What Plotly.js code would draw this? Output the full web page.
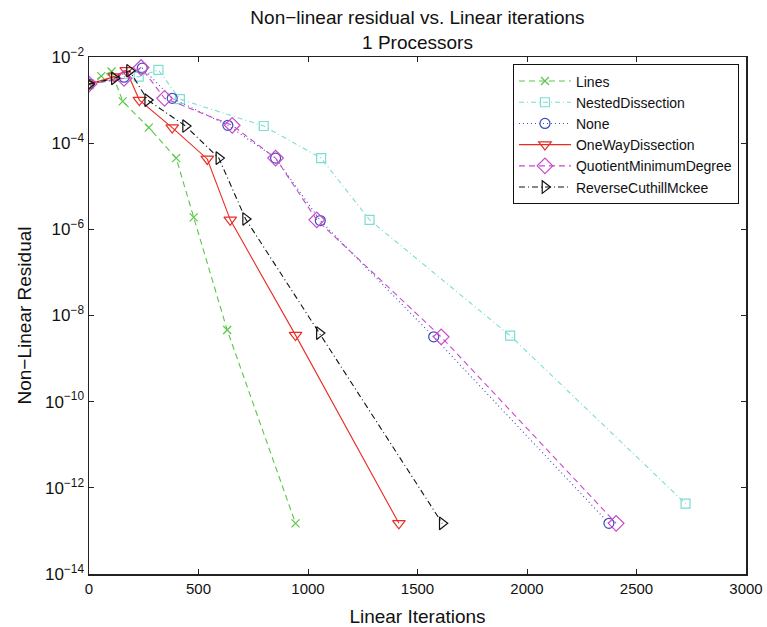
<!DOCTYPE html>
<html>
<head>
<meta charset="utf-8">
<script src="https://cdn.plot.ly/plotly-3.0.1.min.js"></script>
<style>html,body{margin:0;padding:0;background:#fff;}#chart{width:767px;height:627px;}</style>
</head>
<body>
<div id="chart"></div>
<script>
const seriesNames = ["Lines","NestedDissection","None","OneWayDissection","QuotientMinimumDegree","ReverseCuthillMckee"];

const linesX = [0, 56, 103, 154, 273, 398, 478, 631, 943];
const linesY = [2.34e-3, 3.6e-3, 4.6e-3, 9.3e-4, 2.3e-4, 4.5e-5, 1.9e-6, 4.6e-9, 1.5e-13];

const nestedX = [0, 227, 317, 415, 798, 1060, 1281, 1923, 2724];
const nestedY = [2.34e-3, 3.5e-3, 5.0e-3, 1.05e-3, 2.5e-4, 4.5e-5, 1.66e-6, 3.4e-9, 4.3e-13];

const noneX = [0, 160, 243, 380, 634, 852, 1056, 1574, 2374];
const noneY = [2.34e-3, 3.4e-3, 5.5e-3, 1.1e-3, 2.6e-4, 4.5e-5, 1.6e-6, 3.2e-9, 1.5e-13];

const oneWayX = [0, 116, 170, 230, 380, 540, 645, 943, 1415];
const oneWayY = [2.34e-3, 3.5e-3, 4.9e-3, 1.0e-3, 2.3e-4, 4.3e-5, 1.66e-6, 3.5e-9, 1.5e-13];

const qmdX = [0, 160, 238, 345, 654, 852, 1040, 1608, 2407];
const qmdY = [2.34e-3, 3.2e-3, 5.7e-3, 1.1e-3, 2.6e-4, 4.5e-5, 1.66e-6, 3.2e-9, 1.5e-13];

const rcmX = [0, 116, 185, 268, 441, 593, 715, 1052, 1613];
const rcmY = [2.34e-3, 3.2e-3, 4.8e-3, 1.0e-3, 2.5e-4, 4.5e-5, 1.74e-6, 3.9e-9, 1.5e-13];

const xTickVals = [0, 500, 1000, 1500, 2000, 2500, 3000];
const yTickVals = [1e-14, 1e-12, 1e-10, 1e-8, 1e-6, 1e-4, 1e-2];
const yTickText = ["10<sup>−14</sup>","10<sup>−12</sup>","10<sup>−10</sup>","10<sup>−8</sup>","10<sup>−6</sup>","10<sup>−4</sup>","10<sup>−2</sup>"];

function tr(name, x, y, color, dash, symbol, size) {
  return {
    x: x, y: y, name: name, type: 'scatter', mode: 'lines+markers',
    line: {color: color, width: 1.1, dash: dash},
    marker: {symbol: symbol, size: size, color: color, line: {color: color, width: 1.2}}
  };
}

const data = [
  tr(seriesNames[0], linesX, linesY, '#58c846', '6px,4px', 'x-thin-open', 8),
  tr(seriesNames[1], nestedX, nestedY, '#7ddcd4', '5px,3px,1px,3px', 'square-open', 9),
  tr(seriesNames[2], noneX, noneY, '#3a4cc0', '1px,3px', 'circle-open', 10),
  tr(seriesNames[3], oneWayX, oneWayY, '#ea2b22', 'solid', 'triangle-down-open', 11),
  tr(seriesNames[4], qmdX, qmdY, '#c94ac9', '6px,4px', 'diamond-open', 12),
  tr(seriesNames[5], rcmX, rcmY, '#111111', '6px,3px,1px,3px', 'triangle-right-open', 11)
];

const font = "'Liberation Sans', Arial, Helvetica, sans-serif";

const layout = {
  width: 767, height: 627,
  margin: {l: 89, r: 21, t: 57, b: 53},
  paper_bgcolor: '#fff', plot_bgcolor: '#fff',
  font: {family: font, color: '#111', size: 15},
  showlegend: true,
  title: {
    text: 'Non−linear residual vs. Linear iterations<br>1 Processors',
    font: {family: font, size: 19, color: '#111'},
    xref: 'paper', x: 0.5, xanchor: 'center',
    yref: 'container', y: 0.962, yanchor: 'top'
  },
  xaxis: {
    range: [0, 3000], tickvals: xTickVals, ticktext: xTickVals.map(String),
    showgrid: false, zeroline: false,
    showline: true, linecolor: '#222', linewidth: 1.5, mirror: 'ticks',
    ticks: 'inside', ticklen: 5, tickwidth: 1, tickcolor: '#222',
    tickfont: {size: 15},
    title: {text: 'Linear Iterations', font: {size: 19}, standoff: 14}
  },
  yaxis: {
    type: 'log', range: [-14, -2],
    tickvals: yTickVals, ticktext: yTickText,
    showgrid: false, zeroline: false,
    showline: true, linecolor: '#222', linewidth: 1.5, mirror: 'ticks',
    ticks: 'inside', ticklen: 5, tickwidth: 1, tickcolor: '#222',
    tickfont: {size: 17},
    title: {text: 'Non−Linear Residual', font: {size: 19}, standoff: 8}
  },
  legend: {
    x: 0.645, y: 0.986, xanchor: 'left', yanchor: 'top',
    bgcolor: '#fff', bordercolor: '#111', borderwidth: 1.2,
    font: {size: 14, family: font},
    tracegroupgap: 0, itemwidth: 52
  }
};

Plotly.newPlot('chart', data, layout, {displayModeBar: false, staticPlot: true});
</script>
</body>
</html>
